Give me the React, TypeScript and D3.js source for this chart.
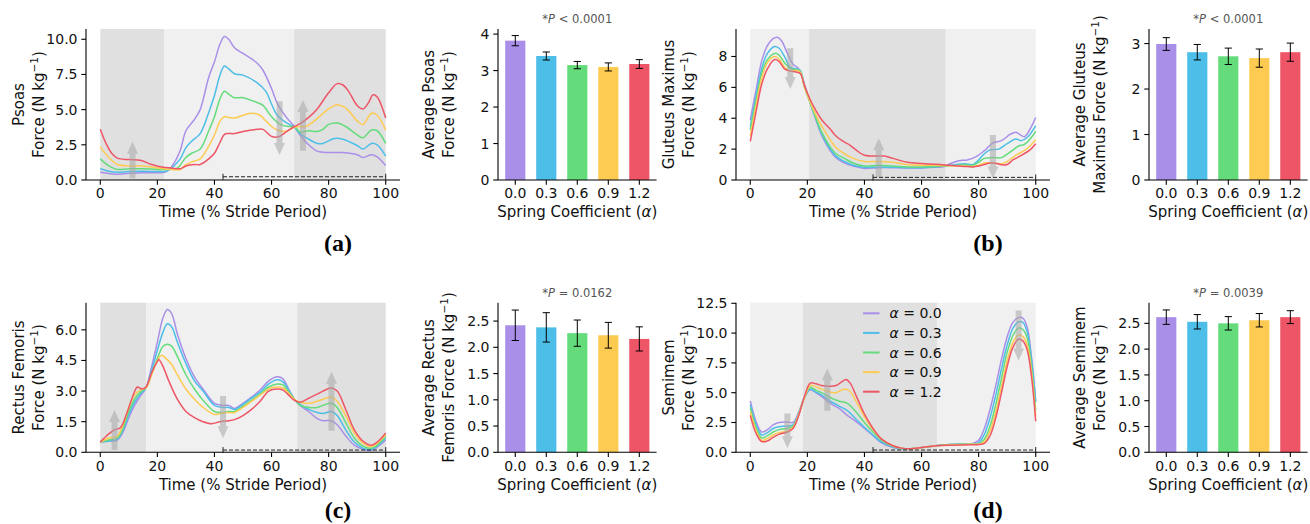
import React from 'react';
import * as d3 from 'd3';

type Pt = [number, number];

const alphaLabels = ['0.0', '0.3', '0.6', '0.9', '1.2'];
const seriesColors = ['#a98fe8', '#4dbee8', '#64dc7b', '#fecb52', '#ee5566'];
const timeTicks = [0, 20, 40, 60, 80, 100];

// ---- Psoas (a)
const psoasCurves: Pt[][] = [
  [[0, 0.55], [3, 0.47], [6, 0.4], [10, 0.48], [15, 0.52], [20, 0.52], [23, 0.58], [25, 0.95], [28, 2.1], [30, 3.5], [33, 4.3], [35, 5.0], [38, 7.3], [40, 8.4], [42, 9.7], [43.5, 10.2], [45, 10.0], [47, 9.4], [50, 9.0], [55, 8.3], [57, 7.8], [60, 6.5], [62, 5.45], [65, 4.5], [68, 3.8], [70, 3.2], [73, 2.5], [76, 2.05], [80, 1.95], [85, 1.95], [90, 1.8], [92, 1.6], [95, 1.8], [97, 1.65], [100, 1.02]],
  [[0, 0.8], [3, 0.62], [6, 0.55], [10, 0.6], [15, 0.62], [20, 0.6], [23, 0.62], [25, 0.85], [28, 1.5], [30, 2.3], [32, 2.75], [35, 3.3], [38, 4.8], [40, 6.0], [42, 7.5], [43.5, 8.1], [45, 7.9], [47, 7.55], [50, 7.45], [55, 6.9], [58, 6.3], [60, 5.4], [62, 4.6], [65, 4.1], [68, 3.75], [70, 3.3], [73, 2.9], [76, 2.6], [78, 2.6], [82, 2.95], [85, 2.9], [90, 2.45], [92, 2.2], [95, 2.6], [97, 2.5], [100, 1.7]],
  [[0, 1.5], [3, 1.0], [6, 0.75], [10, 0.8], [15, 0.8], [20, 0.75], [24, 0.75], [27, 0.85], [30, 1.6], [32, 1.9], [35, 2.2], [38, 3.5], [40, 4.5], [42, 5.8], [43.5, 6.3], [45, 6.1], [47, 5.85], [50, 5.85], [55, 5.5], [57, 5.3], [60, 4.5], [63, 3.95], [66, 3.8], [68, 3.8], [70, 3.4], [73, 3.5], [76, 3.45], [78, 3.6], [80, 3.95], [83, 4.05], [86, 3.8], [90, 3.2], [92, 3.0], [95, 3.55], [97, 3.5], [100, 2.6]],
  [[0, 2.35], [3, 1.6], [6, 1.1], [10, 1.0], [15, 1.0], [20, 0.85], [25, 0.75], [28, 0.75], [30, 1.1], [33, 1.35], [35, 1.5], [38, 2.4], [40, 3.2], [42, 4.2], [43.5, 4.5], [45, 4.45], [47, 4.4], [50, 4.6], [53, 4.75], [56, 4.6], [58, 4.2], [60, 3.8], [62, 3.55], [65, 3.45], [68, 3.75], [70, 3.8], [72, 3.8], [75, 4.2], [80, 5.05], [83, 5.35], [86, 5.1], [90, 4.2], [92, 3.95], [95, 4.75], [97, 4.6], [100, 3.55]],
  [[0, 3.6], [2, 2.6], [4, 1.9], [6, 1.55], [10, 1.45], [14, 1.4], [18, 1.1], [22, 0.9], [25, 0.85], [28, 0.8], [30, 1.0], [33, 1.1], [35, 1.1], [38, 1.5], [40, 1.9], [42, 2.7], [43.5, 3.25], [45, 3.3], [47, 3.3], [50, 3.45], [55, 3.6], [57, 3.6], [60, 3.1], [62, 3.05], [64, 3.25], [66, 3.55], [68, 3.8], [70, 4.0], [73, 4.45], [76, 5.05], [80, 6.2], [83, 6.85], [85, 6.75], [87, 6.3], [90, 5.3], [92, 5.05], [94, 5.5], [95.5, 6.05], [97, 5.9], [100, 4.4]],
];
const psoasBands: [number, number, string][] = [[0, 22.4, 'd'], [22.4, 67.9, 'l'], [67.9, 100, 'd']];
const psoasArrows = [[11.3, 0.12, 2.72], [62.8, 5.6, 1.78], [71, 2.08, 5.69]];
const psoasMeans = [3.82, 3.4, 3.15, 3.1, 3.18];
const psoasErr = [0.14, 0.11, 0.1, 0.11, 0.12];

// ---- Gluteus maximus (b)
const gluteusCurves: Pt[][] = [
  [[0, 3.9], [2, 5.8], [4, 7.7], [6, 8.7], [8, 9.15], [9.5, 9.25], [11, 9.0], [13, 8.2], [15, 7.5], [17, 7.2], [19, 6.2], [21, 5.0], [23, 3.9], [25, 2.9], [28, 1.9], [30, 1.45], [33, 1.1], [36, 0.9], [40, 0.75], [45, 0.8], [50, 0.8], [55, 0.78], [60, 0.78], [65, 0.82], [68, 0.88], [70, 1.05], [73, 1.25], [76, 1.3], [79, 1.5], [82, 1.9], [85, 2.4], [88, 2.55], [91, 2.95], [93, 3.1], [96, 2.8], [98, 3.3], [100, 4.05]],
  [[0, 3.45], [2, 5.4], [4, 7.2], [6, 8.2], [8.5, 8.65], [10, 8.55], [12, 8.0], [14, 7.3], [16, 7.2], [17.5, 7.1], [19, 6.1], [21, 5.0], [23, 3.95], [25, 3.0], [28, 2.0], [30, 1.55], [33, 1.2], [36, 0.95], [40, 0.82], [45, 0.85], [50, 0.82], [55, 0.8], [60, 0.8], [65, 0.85], [70, 0.95], [75, 1.05], [78, 1.0], [80, 1.3], [82, 1.7], [84, 1.95], [87, 2.0], [90, 2.35], [93, 2.65], [95, 2.55], [97, 2.75], [100, 3.5]],
  [[0, 3.25], [2, 5.1], [4, 6.9], [6, 7.8], [8.5, 8.2], [10, 8.1], [12, 7.6], [14, 7.2], [16, 7.15], [17.5, 7.05], [19, 6.0], [21, 5.0], [23, 4.0], [25, 3.1], [28, 2.15], [30, 1.7], [33, 1.4], [36, 1.1], [40, 0.9], [45, 0.95], [50, 0.9], [55, 0.85], [60, 0.85], [65, 0.88], [70, 0.92], [75, 0.98], [78, 0.95], [80, 1.15], [82, 1.4], [85, 1.45], [88, 1.45], [91, 1.8], [94, 2.2], [96, 2.3], [98, 2.65], [100, 3.15]],
  [[0, 2.85], [2, 4.8], [4, 6.6], [6, 7.6], [8.5, 8.0], [10, 7.85], [12, 7.3], [14, 7.05], [16, 7.1], [17.5, 7.0], [19, 6.0], [21, 5.05], [23, 4.2], [25, 3.5], [28, 2.6], [30, 2.1], [33, 1.7], [36, 1.4], [40, 1.2], [45, 1.2], [50, 1.15], [55, 1.0], [60, 0.95], [65, 0.95], [70, 0.92], [75, 0.9], [78, 0.88], [80, 0.95], [82, 1.1], [85, 1.1], [88, 1.05], [90, 1.2], [93, 1.6], [96, 1.9], [98, 2.2], [100, 2.6]],
  [[0, 2.5], [2, 4.4], [4, 6.2], [6, 7.2], [8.5, 7.8], [10, 7.7], [12, 7.2], [14, 7.05], [16, 7.0], [17.5, 6.9], [19, 6.1], [21, 5.2], [23, 4.5], [25, 3.9], [28, 3.3], [30, 2.85], [33, 2.45], [35, 2.25], [37, 1.95], [40, 1.6], [45, 1.55], [47, 1.55], [50, 1.4], [55, 1.15], [60, 1.07], [65, 1.02], [70, 0.95], [75, 0.88], [78, 0.85], [80, 0.9], [82, 1.0], [84, 1.1], [86, 1.08], [88, 0.98], [90, 1.0], [92, 1.3], [95, 1.6], [98, 1.95], [100, 2.35]],
];
const gluteusBands: [number, number, string][] = [[0, 20.6, 'l'], [20.6, 68.5, 'd'], [68.5, 100, 'l']];
const gluteusArrows = [[14, 8.54, 5.9], [45, 0.2, 2.7], [85, 2.92, 0.1]];
const gluteusMeans = [2.99, 2.81, 2.72, 2.68, 2.81];
const gluteusErr = [0.14, 0.17, 0.18, 0.2, 0.2];

// ---- Rectus femoris (c)
const rectusCurves: Pt[][] = [
  [[0, 0.5], [3, 0.55], [6, 0.6], [8, 1.0], [10, 1.7], [12, 2.3], [14, 2.75], [16, 3.15], [18, 4.2], [20, 5.4], [22, 6.6], [23.5, 7.0], [25, 6.8], [27, 5.8], [30, 4.6], [33, 3.7], [36, 3.1], [40, 2.4], [43, 2.3], [45, 2.3], [47, 2.15], [50, 2.4], [53, 2.7], [56, 3.05], [59, 3.5], [62, 3.7], [64, 3.6], [66, 3.1], [68, 2.6], [70, 2.3], [73, 2.0], [76, 1.65], [78, 1.55], [81, 1.55], [83, 1.35], [86, 0.8], [89, 0.35], [92, 0.15], [95, 0.1], [97, 0.25], [100, 0.6]],
  [[0, 0.5], [3, 0.55], [6, 0.65], [8, 1.1], [10, 1.85], [12, 2.45], [14, 2.85], [16, 3.15], [18, 4.0], [20, 5.0], [22, 5.9], [23.5, 6.3], [25, 6.15], [27, 5.4], [30, 4.35], [33, 3.5], [36, 3.0], [40, 2.3], [43, 2.2], [45, 2.2], [47, 2.1], [50, 2.35], [53, 2.65], [56, 2.95], [59, 3.35], [62, 3.55], [64, 3.45], [66, 3.05], [68, 2.6], [70, 2.35], [73, 2.1], [76, 1.95], [78, 1.9], [81, 2.0], [83, 1.8], [86, 1.1], [89, 0.5], [92, 0.2], [95, 0.15], [97, 0.3], [100, 0.7]],
  [[0, 0.5], [3, 0.6], [6, 0.7], [8, 1.2], [10, 2.0], [12, 2.6], [14, 2.95], [16, 3.15], [18, 3.85], [20, 4.6], [22, 5.2], [23.5, 5.3], [25, 5.2], [27, 4.7], [30, 3.8], [33, 3.1], [36, 2.55], [40, 2.0], [43, 1.95], [45, 2.0], [47, 2.0], [50, 2.25], [53, 2.55], [56, 2.85], [59, 3.2], [62, 3.35], [64, 3.3], [66, 2.95], [68, 2.6], [70, 2.3], [73, 2.2], [76, 2.2], [78, 2.3], [81, 2.4], [83, 2.2], [86, 1.45], [89, 0.7], [92, 0.3], [95, 0.2], [97, 0.35], [100, 0.8]],
  [[0, 0.5], [3, 0.7], [6, 0.8], [8, 1.35], [10, 2.2], [12, 2.8], [14, 3.05], [16, 3.15], [18, 3.8], [20, 4.5], [21.5, 4.75], [23, 4.6], [25, 4.3], [27, 3.8], [30, 3.1], [33, 2.6], [36, 2.2], [40, 1.85], [42, 1.9], [44, 1.95], [47, 1.95], [50, 2.2], [53, 2.5], [56, 2.8], [59, 3.1], [62, 3.2], [64, 3.15], [66, 2.9], [68, 2.6], [70, 2.45], [73, 2.4], [76, 2.5], [78, 2.6], [81, 2.7], [83, 2.5], [86, 1.8], [89, 0.95], [92, 0.45], [95, 0.28], [97, 0.45], [100, 0.85]],
  [[0, 0.5], [3, 0.9], [5, 1.1], [7, 1.2], [9, 1.8], [11, 2.6], [13, 3.2], [14.5, 3.1], [16, 3.2], [18, 3.9], [20, 4.45], [20.5, 4.55], [22, 4.2], [24, 3.5], [27, 2.6], [30, 2.0], [33, 1.7], [36, 1.5], [39, 1.4], [42, 1.5], [45, 1.55], [47, 1.6], [50, 1.8], [53, 2.1], [56, 2.5], [59, 3.0], [62, 3.1], [64, 3.05], [66, 2.8], [68, 2.55], [70, 2.45], [73, 2.65], [76, 2.85], [78, 3.0], [81, 3.15], [83, 3.0], [86, 2.1], [89, 1.1], [92, 0.55], [95, 0.35], [97, 0.5], [100, 0.95]],
];
const rectusBands: [number, number, string][] = [[0, 16.1, 'd'], [16.1, 69, 'l'], [69, 100, 'd']];
const rectusArrows = [[5, 0.11, 2.07], [43, 2.76, 0.69], [81, 1.06, 3.95]];
const rectusMeans = [2.42, 2.38, 2.27, 2.23, 2.16];
const rectusErr = [0.29, 0.28, 0.25, 0.245, 0.23];

// ---- Semimembranosus (d)
const semimemCurves: Pt[][] = [
  [[0, 4.3], [2, 2.6], [4, 1.7], [6, 1.9], [8, 2.3], [10, 2.5], [13, 2.55], [15, 2.5], [17, 3.4], [19, 4.6], [21, 5.25], [23, 5.0], [25, 4.7], [28, 4.1], [31, 3.7], [34, 3.1], [37, 2.6], [40, 2.0], [43, 1.4], [46, 0.8], [50, 0.4], [53, 0.3], [56, 0.3], [60, 0.4], [65, 0.55], [70, 0.65], [75, 0.7], [78, 0.75], [80, 1.0], [82, 2.0], [84, 3.6], [86, 5.6], [88, 7.8], [90, 9.7], [92, 10.9], [94, 11.3], [95.5, 11.25], [97, 10.5], [98.5, 8.0], [100, 4.3]],
  [[0, 4.0], [2, 2.35], [4, 1.45], [6, 1.65], [8, 2.0], [10, 2.15], [13, 2.2], [15, 2.3], [17, 3.3], [19, 4.6], [21, 5.3], [23, 5.05], [25, 4.8], [28, 4.3], [31, 3.9], [34, 3.5], [37, 2.8], [40, 2.1], [43, 1.45], [46, 0.85], [50, 0.45], [53, 0.3], [56, 0.3], [60, 0.4], [65, 0.55], [70, 0.65], [75, 0.7], [78, 0.72], [80, 0.8], [82, 1.5], [84, 2.9], [86, 4.8], [88, 7.0], [90, 9.0], [92, 10.4], [94, 10.95], [95.5, 10.9], [97, 10.1], [98.5, 7.8], [100, 4.2]],
  [[0, 3.75], [2, 2.1], [4, 1.2], [6, 1.4], [8, 1.7], [10, 1.9], [13, 2.0], [15, 2.2], [17, 3.2], [19, 4.6], [21, 5.45], [23, 5.2], [25, 5.0], [28, 4.6], [31, 4.3], [34, 4.1], [37, 3.4], [40, 2.5], [43, 1.7], [46, 1.0], [50, 0.5], [53, 0.35], [56, 0.3], [60, 0.4], [65, 0.55], [70, 0.65], [75, 0.68], [78, 0.7], [80, 0.7], [82, 1.1], [84, 2.2], [86, 4.0], [88, 6.2], [90, 8.4], [92, 9.8], [94, 10.45], [95.5, 10.3], [97, 9.6], [98.5, 7.2], [100, 3.5]],
  [[0, 3.4], [2, 1.85], [4, 1.0], [6, 1.15], [8, 1.45], [10, 1.65], [13, 1.8], [15, 2.1], [17, 3.2], [19, 4.6], [21, 5.6], [23, 5.5], [25, 5.3], [28, 5.05], [30, 5.0], [33, 5.3], [35, 5.1], [37, 4.3], [40, 3.0], [43, 1.9], [46, 1.1], [50, 0.55], [53, 0.35], [56, 0.3], [60, 0.4], [65, 0.55], [70, 0.62], [75, 0.65], [78, 0.68], [80, 0.68], [82, 0.9], [84, 1.8], [86, 3.4], [88, 5.5], [90, 7.7], [92, 9.2], [94, 9.85], [95.5, 9.7], [97, 9.0], [98.5, 6.8], [100, 3.0]],
  [[0, 3.1], [2, 1.6], [4, 0.9], [6, 0.95], [8, 1.25], [10, 1.5], [13, 1.7], [15, 2.0], [17, 3.1], [19, 4.7], [21, 5.8], [23, 5.75], [25, 5.6], [28, 5.55], [30, 5.6], [32, 5.9], [33.5, 6.1], [35, 5.8], [37, 4.8], [40, 3.2], [43, 2.0], [46, 1.1], [50, 0.55], [53, 0.35], [56, 0.3], [60, 0.4], [65, 0.55], [70, 0.6], [75, 0.62], [78, 0.63], [80, 0.65], [82, 0.75], [84, 1.4], [86, 2.9], [88, 5.0], [90, 7.2], [92, 8.8], [94, 9.5], [95.5, 9.35], [97, 8.6], [98.5, 6.4], [100, 2.6]],
];
const semimemBands: [number, number, string][] = [[0, 18.4, 'l'], [18.4, 65.5, 'd'], [65.5, 100, 'l']];
const semimemArrows = [[13, 3.26, 0.33], [27, 3.48, 7.02], [94, 11.9, 7.7]];
const semimemMeans = [2.62, 2.53, 2.5, 2.56, 2.62];
const semimemErr = [0.14, 0.14, 0.13, 0.13, 0.125];

const FONT = "'DejaVu Sans', sans-serif";
const shade: Record<string, string> = { d: '#e0e0e0', l: '#f0f0f0' };
const TICK_FS = 14;
const LABEL_FS = 15;

function YLabel({ x1, x2, yc, line1, line2 }: any) {
  return (
    <g fontSize={LABEL_FS} fill="#111">
      <text transform={`translate(${x1},${yc}) rotate(-90)`} textAnchor="middle">{line1}</text>
      <text transform={`translate(${x2},${yc}) rotate(-90)`} textAnchor="middle">
        {line2}<tspan dy={-6} fontSize={10.5}>−1</tspan><tspan dy={6}>)</tspan>
      </text>
    </g>
  );
}

function LinePanel({ left, top, bottom, yMax, yTicks, fmt, curves, bands, arrows, sigLevel, lab1, lab2, legend }: any) {
  const x = d3.scaleLinear().domain([-5, 105]).range([left, left + 314]);
  const y = d3.scaleLinear().domain([0, yMax]).range([bottom, top]);
  const line = d3.line<Pt>().x(d => x(d[0])).y(d => y(d[1])).curve(d3.curveCatmullRom.alpha(0.5));
  const sy = y(sigLevel);
  return (
    <g>
      {bands.map((b: any, i: number) => (
        <rect key={i} x={x(b[0])} y={top} width={x(b[1]) - x(b[0])} height={bottom - top} fill={shade[b[2]]} />
      ))}
      {curves.map((c: Pt[], i: number) => (
        <path key={i} d={line(c) || ''} fill="none" stroke={seriesColors[i]} strokeWidth={1.5} />
      ))}
      {arrows.map((a: number[], i: number) => {
        const ax = x(a[0]), y0 = y(a[1]), y1 = y(a[2]);
        const dir = y1 > y0 ? 1 : -1;
        const hb = y1 - dir * 12;
        const pts = [[ax - 3, y0], [ax + 3, y0], [ax + 3, hb], [ax + 5.5, hb], [ax, y1], [ax - 5.5, hb], [ax - 3, hb]];
        return <polygon key={i} points={pts.map(p => p.join(',')).join(' ')} fill="#a8a8a8" opacity={0.55} />;
      })}
      <g stroke="#222" strokeWidth={1}>
        <line x1={x(43)} x2={x(100)} y1={sy} y2={sy} strokeDasharray="4,2" />
        <line x1={x(43)} x2={x(43)} y1={sy - 3} y2={sy + 3} />
        <line x1={x(100)} x2={x(100)} y1={sy - 3} y2={sy + 3} />
      </g>
      <g stroke="#000" strokeWidth={1.1}>
        <line x1={left} x2={left} y1={top} y2={bottom} />
        <line x1={left} x2={left + 314} y1={bottom} y2={bottom} />
        {yTicks.map((t: number) => <line key={t} x1={left - 4.7} x2={left} y1={y(t)} y2={y(t)} />)}
        {timeTicks.map(t => <line key={t} x1={x(t)} x2={x(t)} y1={bottom} y2={bottom + 4.7} />)}
      </g>
      <g fontSize={TICK_FS} fill="#111">
        {yTicks.map((t: number) => (
          <text key={t} x={left - 8.5} y={y(t) + 5} textAnchor="end">{fmt(t)}</text>
        ))}
        {timeTicks.map(t => (
          <text key={t} x={x(t)} y={bottom + 18.3} textAnchor="middle">{t}</text>
        ))}
      </g>
      <text x={x(50)} y={bottom + 37.3} textAnchor="middle" fontSize={LABEL_FS} fill="#111">Time (% Stride Period)</text>
      <YLabel x1={left - 62} x2={left - 42.5} yc={(top + bottom) / 2} line1={lab1} line2={lab2} />
      {legend && (
        <g fontSize={TICK_FS} fill="#111">
          {alphaLabels.map((a, i) => (
            <g key={a} transform={`translate(${x(39.5)},${top + 10.6 + i * 19.6})`}>
              <line x1={0} x2={16.5} y1={0} y2={0} stroke={seriesColors[i]} strokeWidth={2} />
              <text x={26.5} y={5}><tspan fontStyle="italic">α</tspan> = {a}</text>
            </g>
          ))}
        </g>
      )}
    </g>
  );
}

function BarPanel({ left, top, bottom, yMax, yTicks, fmt, means, errs, ptext, lab1, lab2 }: any) {
  const x = d3.scaleLinear().domain([-0.5575, 4.5575]).range([left, left + 158.6]);
  const y = d3.scaleLinear().domain([0, yMax]).range([bottom, top]);
  const bw = x(0.65) - x(0);
  return (
    <g>
      {means.map((m: number, i: number) => (
        <rect key={i} x={x(i) - bw / 2} y={y(m)} width={bw} height={bottom - y(m)} fill={seriesColors[i]} />
      ))}
      <g stroke="#000" strokeWidth={1}>
        {means.map((m: number, i: number) => (
          <g key={i}>
            <line x1={x(i)} x2={x(i)} y1={y(m + errs[i])} y2={y(m - errs[i])} />
            <line x1={x(i) - 3.6} x2={x(i) + 3.6} y1={y(m + errs[i])} y2={y(m + errs[i])} />
            <line x1={x(i) - 3.6} x2={x(i) + 3.6} y1={y(m - errs[i])} y2={y(m - errs[i])} />
          </g>
        ))}
      </g>
      <g stroke="#000" strokeWidth={1.1}>
        <line x1={left} x2={left} y1={top} y2={bottom} />
        <line x1={left} x2={left + 158.6} y1={bottom} y2={bottom} />
        {yTicks.map((t: number) => <line key={t} x1={left - 4.7} x2={left} y1={y(t)} y2={y(t)} />)}
        {alphaLabels.map((a, i) => <line key={a} x1={x(i)} x2={x(i)} y1={bottom} y2={bottom + 4.7} />)}
      </g>
      <g fontSize={TICK_FS} fill="#111">
        {yTicks.map((t: number) => (
          <text key={t} x={left - 8.5} y={y(t) + 5} textAnchor="end">{fmt(t)}</text>
        ))}
        {alphaLabels.map((a, i) => (
          <text key={a} x={x(i)} y={bottom + 18.3} textAnchor="middle">{a}</text>
        ))}
      </g>
      <text x={x(2)} y={bottom + 37.3} textAnchor="middle" fontSize={LABEL_FS} fill="#111">
        Spring Coefficient (<tspan fontStyle="italic">α</tspan>)
      </text>
      <text x={x(2)} y={top - 6} textAnchor="middle" fontSize={11.5} fill="#555">
        *<tspan fontStyle="italic">P</tspan> {ptext}
      </text>
      <YLabel x1={left - 64.5} x2={left - 44.5} yc={(top + bottom) / 2} line1={lab1} line2={lab2} />
    </g>
  );
}

const f1 = d3.format('.1f');
const f0 = d3.format('d');

export default function App() {
  const r1 = { top: 29, bottom: 180 };
  const r2 = { top: 302.7, bottom: 452.3 };
  return (
    <svg width={1310} height={524} style={{ position: 'absolute', left: 0, top: 0, background: '#fff' }} fontFamily={FONT}>
      <LinePanel left={86} {...r1} yMax={10.73} yTicks={[0, 2.5, 5, 7.5, 10]} fmt={f1} curves={psoasCurves}
        bands={psoasBands} arrows={psoasArrows} sigLevel={0.23} lab1="Psoas" lab2="Force (N kg" />
      <BarPanel left={498} {...r1} yMax={4.14} yTicks={[0, 1, 2, 3, 4]} fmt={f0} means={psoasMeans} errs={psoasErr}
        ptext="< 0.0001" lab1="Average Psoas" lab2="Force (N kg" />
      <LinePanel left={736} {...r1} yMax={9.78} yTicks={[0, 2, 4, 6, 8]} fmt={f0} curves={gluteusCurves}
        bands={gluteusBands} arrows={gluteusArrows} sigLevel={0.17} lab1="Gluteus Maximus" lab2="Force (N kg" />
      <BarPanel left={1149} {...r1} yMax={3.32} yTicks={[0, 1, 2, 3]} fmt={f0} means={gluteusMeans} errs={gluteusErr}
        ptext="< 0.0001" lab1="Average Gluteus" lab2="Maximus Force (N kg" />

      <LinePanel left={86} {...r2} yMax={7.33} yTicks={[0, 1.5, 3, 4.5, 6]} fmt={f1} curves={rectusCurves}
        bands={rectusBands} arrows={rectusArrows} sigLevel={0.11} lab1="Rectus Femoris" lab2="Force (N kg" />
      <BarPanel left={498} {...r2} yMax={2.85} yTicks={[0, 0.5, 1, 1.5, 2, 2.5]} fmt={f1} means={rectusMeans} errs={rectusErr}
        ptext="= 0.0162" lab1="Average Rectus" lab2="Femoris Force (N kg" />
      <LinePanel left={736} {...r2} yMax={12.55} yTicks={[0, 2.5, 5, 7.5, 10, 12.5]} fmt={f1} curves={semimemCurves}
        bands={semimemBands} arrows={semimemArrows} sigLevel={0.19} lab1="Semimem" lab2="Force (N kg" legend />
      <BarPanel left={1149} {...r2} yMax={2.9} yTicks={[0, 0.5, 1, 1.5, 2, 2.5]} fmt={f1} means={semimemMeans} errs={semimemErr}
        ptext="= 0.0039" lab1="Average Semimem" lab2="Force (N kg" />

      <g fontFamily="'Liberation Serif', serif" fontWeight="bold" fontSize={24} textAnchor="middle" fill="#000">
        <text x={338} y={251}>(a)</text>
        <text x={988} y={251}>(b)</text>
        <text x={338} y={518}>(c)</text>
        <text x={988} y={518}>(d)</text>
      </g>
    </svg>
  );
}
